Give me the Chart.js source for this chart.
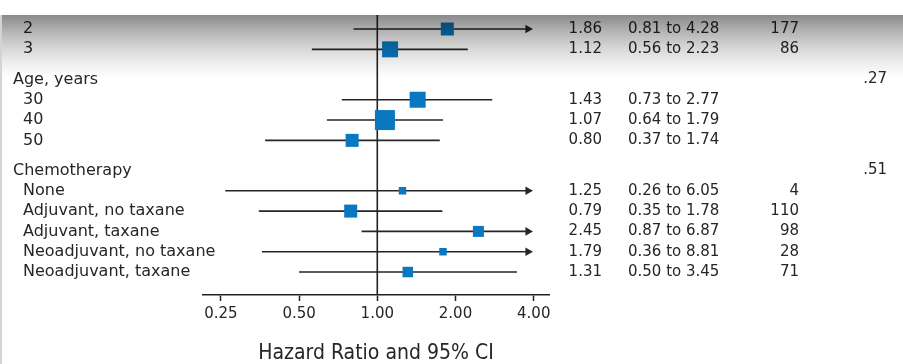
<!DOCTYPE html>
<html>
<head>
<meta charset="utf-8">
<script src="https://cdn.jsdelivr.net/npm/chart.js@4.4.1/dist/chart.umd.min.js"></script>
<style>
  html, body { margin: 0; padding: 0; background: #fff; }
  #wrap { position: relative; width: 903px; height: 364px; }
</style>
</head>
<body>
<div id="wrap"><canvas id="forest"></canvas></div>
<script>
// rows of the forest plot (top of the table is cut off in the original)
const rowLabels = ['2', '3', 'Age, years', '30', '40', '50', 'Chemotherapy',
  'None', 'Adjuvant, no taxane', 'Adjuvant, taxane', 'Neoadjuvant, no taxane', 'Neoadjuvant, taxane'];
const isHeader = [false, false, true, false, false, false, true, false, false, false, false, false];
const hazardRatio = [1.86, 1.12, null, 1.43, 1.07, 0.80, null, 1.25, 0.79, 2.45, 1.79, 1.31];
const ciLower = [0.81, 0.56, null, 0.73, 0.64, 0.37, null, 0.26, 0.35, 0.87, 0.36, 0.50];
const ciUpper = [4.28, 2.23, null, 2.77, 1.79, 1.74, null, 6.05, 1.78, 6.87, 8.81, 3.45];
const patients = ['177', '86', '', '', '', '', '', '4', '110', '98', '28', '71'];
const pValues = ['', '', '.27', '', '', '', '.51', '', '', '', '', ''];
const tickValues = [0.25, 0.5, 1, 2, 4];

// marker side in px (weight of each estimate)
const boxSide = [13, 16, 0, 16, 20, 13, 0, 7.5, 13, 11, 7.5, 10.5];

const ARROW_CAP = 3.8;      // intervals beyond this get an arrow
const X_MIN = 0.2134, X_MAX = 4.58;
const Y_MIN = -0.69, Y_MAX = 13.09;
const INK = '#262626';
const BLUE = '#0a78c0';

// row positions: extra gap before each group header
const rowPos = [];
let pos = 0;
rowLabels.forEach((lab, i) => {
  if (isHeader[i] && i > 0) pos += 0.48;
  rowPos.push(pos);
  pos += 1;
});

const whiskers = [];
const arrows = [];
const boxes = [];
const boxRadius = [];
rowLabels.forEach((lab, i) => {
  if (hazardRatio[i] == null) return;
  const hi = Math.min(ciUpper[i], ARROW_CAP);
  whiskers.push({x: ciLower[i], y: rowPos[i]}, {x: hi, y: rowPos[i]}, {x: null, y: null});
  if (ciUpper[i] > ARROW_CAP) arrows.push({x: ARROW_CAP, y: rowPos[i]});
  boxes.push({x: hazardRatio[i], y: rowPos[i]});
  boxRadius.push(boxSide[i] / Math.SQRT2);
});

const tablePlugin = {
  id: 'table',
  afterDatasetsDraw(chart) {
    const ctx = chart.ctx;
    const yScale = chart.scales.y;
    ctx.save();
    ctx.fillStyle = INK;
    ctx.textBaseline = 'middle';
    rowLabels.forEach((lab, i) => {
      const py = yScale.getPixelForValue(rowPos[i]);
      ctx.font = '16px "DejaVu Sans"';
      ctx.textAlign = 'left';
      ctx.fillText(lab, isHeader[i] ? 13 : 23, py);
      ctx.font = '15px "DejaVu Sans"';
      if (hazardRatio[i] != null) {
        ctx.textAlign = 'right';
        ctx.fillText(hazardRatio[i].toFixed(2), 602, py);
        ctx.textAlign = 'left';
        ctx.fillText(ciLower[i].toFixed(2) + ' to ' + ciUpper[i].toFixed(2), 628, py);
      }
      ctx.textAlign = 'right';
      if (patients[i]) ctx.fillText(patients[i], 799, py);
      if (pValues[i]) ctx.fillText(pValues[i], 887, py);
    });
    ctx.restore();
  },
  afterDraw(chart) {
    // scanned page shadow along the top edge
    const ctx = chart.ctx;
    ctx.save();
    const g = ctx.createLinearGradient(0, 15, 0, 78);
    g.addColorStop(0, 'rgba(0,0,0,0.46)');
    g.addColorStop(0.25, 'rgba(0,0,0,0.30)');
    g.addColorStop(0.5, 'rgba(0,0,0,0.17)');
    g.addColorStop(0.75, 'rgba(0,0,0,0.07)');
    g.addColorStop(1, 'rgba(0,0,0,0)');
    ctx.fillStyle = g;
    ctx.fillRect(0, 15, chart.width, 63);
    ctx.fillStyle = '#d4d4d4';
    ctx.fillRect(0, 15, 2, chart.height - 15);
    ctx.restore();
  }
};

new Chart(document.getElementById('forest'), {
  type: 'scatter',
  data: {
    datasets: [
      {
        type: 'scatter',
        data: boxes,
        pointStyle: 'rect',
        pointRadius: boxRadius,
        pointHoverRadius: boxRadius,
        backgroundColor: BLUE,
        borderWidth: 0,
        order: 0
      },
      {
        type: 'scatter',
        data: arrows,
        pointStyle: 'triangle',
        rotation: 90,
        pointRadius: 5,
        backgroundColor: INK,
        borderWidth: 0,
        order: 1
      },
      {
        type: 'line',
        data: whiskers,
        borderColor: INK,
        borderWidth: 1.6,
        pointRadius: 0,
        spanGaps: false,
        order: 2
      },
      {
        type: 'line',
        data: [{x: 1, y: Y_MIN}, {x: 1, y: Y_MAX}],
        borderColor: '#222',
        borderWidth: 1.6,
        pointRadius: 0,
        order: 3
      }
    ]
  },
  options: {
    responsive: true,
    maintainAspectRatio: false,
    devicePixelRatio: 1,
    animation: false,
    layout: { padding: { left: 203, right: 354, top: 15, bottom: 0 } },
    plugins: { legend: { display: false }, tooltip: { enabled: false } },
    scales: {
      x: {
        type: 'logarithmic',
        min: X_MIN,
        max: X_MAX,
        afterBuildTicks: s => { s.ticks = tickValues.map(v => ({ value: v })); },
        afterFit: s => { s.height = 69; },
        border: { color: '#222', width: 1.6 },
        grid: { drawOnChartArea: false, drawTicks: true, tickLength: 6, tickWidth: 1.5, tickColor: '#222' },
        ticks: {
          font: { family: '"DejaVu Sans"', size: 15 },
          color: INK,
          padding: 4,
          maxRotation: 0,
          autoSkip: false,
          callback: v => Number(v).toFixed(2)
        },
        title: {
          display: true,
          text: 'Hazard Ratio and 95% CI',
          font: { family: '"Liberation Sans Narrow", "DejaVu Sans Condensed", sans-serif', size: 21, lineHeight: 1 },
          color: INK,
          padding: 0
        }
      },
      y: {
        type: 'linear',
        reverse: true,
        min: Y_MIN,
        max: Y_MAX,
        display: false
      }
    }
  },
  plugins: [tablePlugin]
});
</script>
</body>
</html>
